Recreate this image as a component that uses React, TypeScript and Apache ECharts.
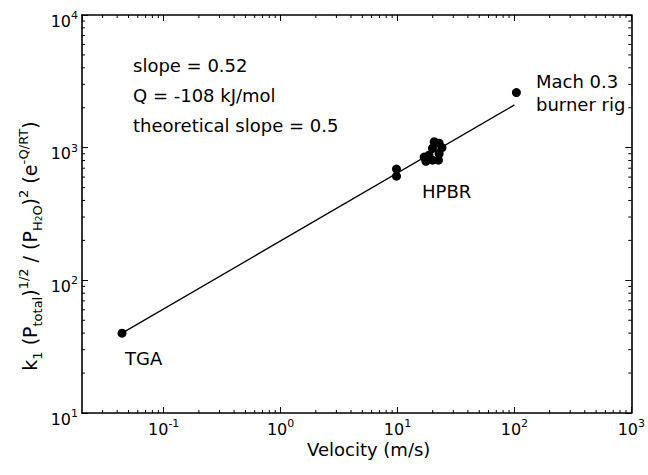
import React, { useEffect, useRef } from 'react';
import * as echarts from 'echarts';

// Axis ranges
const X_MIN = 0.02;
const X_MAX = 1000;
const Y_MIN = 10;
const Y_MAX = 10000;

// Data (velocity m/s, rate parameter)
const TGA_POINTS = [[0.044, 40]];
const HPBR_POINTS = [
  [9.8, 690], [9.8, 610],
  [20.6, 1110], [22.7, 1080], [19.9, 990], [22.7, 900], [16.9, 850],
  [17.5, 790], [19.9, 805], [22.4, 805], [18.6, 880], [24.0, 1000],
];
const MACH_POINTS = [[104, 2600]];
const FIT_LINE = [[0.044, 40], [100, 2100]];

// Minor tick multipliers and decades
const MINOR_STEPS = [2, 3, 4, 5, 6, 7, 8, 9];
const X_DECADES = [0.01, 0.1, 1, 10, 100];
const Y_DECADES = [10, 100, 1000];

const FONT = 'DejaVu Sans';

const xMinor = X_DECADES.flatMap((d) => MINOR_STEPS.map((m) => m * d)).filter(
  (v) => v > X_MIN * 1.001 && v < X_MAX
);
const yMinor = Y_DECADES.flatMap((d) => MINOR_STEPS.map((m) => m * d)).filter(
  (v) => v > Y_MIN && v < Y_MAX
);

const pow10Label = (v: number) => {
  const e = Math.log10(v);
  const r = Math.round(e);
  if (Math.abs(e - r) > 1e-6) return '';
  return `{b|10}{s|${r}}`;
};

const labelRich = {
  b: { fontSize: 16, lineHeight: 22, fontFamily: FONT, color: '#000' },
  s: { fontSize: 11, lineHeight: 11, fontFamily: FONT, color: '#000', verticalAlign: 'top' },
};

const axisCommon = {
  type: 'log' as const,
  logBase: 10,
  axisLine: { show: true, onZero: false, lineStyle: { color: '#000', width: 1.6 } },
  axisTick: { show: true, inside: true, length: 6, lineStyle: { color: '#000', width: 1 } },
  splitLine: { show: false },
};

export default function App() {
  const ref = useRef<HTMLDivElement>(null);

  useEffect(() => {
    if (!ref.current) return;
    const chart = echarts.init(ref.current, undefined, { renderer: 'svg' });

    const tickLine = (x1: number, y1: number, x2: number, y2: number) => ({
      type: 'line',
      shape: { x1, y1, x2, y2 },
      style: { stroke: '#000', lineWidth: 1 },
    });

    const option: any = {
      animation: false,
      backgroundColor: '#fff',
      grid: { left: 82, right: 16, top: 15, bottom: 62, containLabel: false },
      xAxis: [
        {
          ...axisCommon,
          min: X_MIN,
          max: X_MAX,
          position: 'bottom',
          axisLabel: {
            show: true,
            margin: 5,
            formatter: pow10Label,
            rich: labelRich,
            showMinLabel: false,
          },
        },
        {
          ...axisCommon,
          min: X_MIN,
          max: X_MAX,
          position: 'top',
          axisLabel: { show: false },
        },
      ],
      yAxis: [
        {
          ...axisCommon,
          min: Y_MIN,
          max: Y_MAX,
          position: 'left',
          axisLabel: {
            show: true,
            margin: 4,
            formatter: pow10Label,
            rich: labelRich,
            padding: [12, 0, 0, 0],
          },
        },
        {
          ...axisCommon,
          min: Y_MIN,
          max: Y_MAX,
          position: 'right',
          axisLabel: { show: false },
        },
      ],
      series: [
        {
          type: 'line',
          data: FIT_LINE,
          showSymbol: false,
          symbol: 'none',
          lineStyle: { color: '#000', width: 1.3 },
          z: 2,
        },
        {
          type: 'scatter',
          data: [...TGA_POINTS, ...HPBR_POINTS, ...MACH_POINTS],
          symbol: 'circle',
          symbolSize: 9,
          itemStyle: { color: '#000', opacity: 1 },
          z: 3,
        },
        {
          type: 'custom',
          data: xMinor.map((v) => [v, Y_MIN]),
          silent: true,
          clip: false,
          renderItem: (_p: any, api: any) => {
            const v = api.value(0);
            const b = api.coord([v, Y_MIN]);
            const t = api.coord([v, Y_MAX]);
            return {
              type: 'group',
              children: [
                tickLine(b[0], b[1], b[0], b[1] - 3),
                tickLine(t[0], t[1], t[0], t[1] + 3),
              ],
            };
          },
        },
        {
          type: 'custom',
          data: yMinor.map((v) => [X_MIN, v]),
          silent: true,
          clip: false,
          renderItem: (_p: any, api: any) => {
            const v = api.value(1);
            const l = api.coord([X_MIN, v]);
            const r = api.coord([X_MAX, v]);
            return {
              type: 'group',
              children: [
                tickLine(l[0], l[1], l[0] + 3, l[1]),
                tickLine(r[0], r[1], r[0] - 3, r[1]),
              ],
            };
          },
        },
      ],
      graphic: [
        {
          type: 'text',
          left: 133,
          top: 50,
          style: {
            text: 'slope = 0.52\nQ = -108 kJ/mol\ntheoretical slope = 0.5',
            font: `18px ${FONT}`,
            lineHeight: 30,
            fill: '#000',
          },
        },
        {
          type: 'text',
          left: 125,
          top: 349,
          style: { text: 'TGA', font: `18px ${FONT}`, fill: '#000' },
        },
        {
          type: 'text',
          left: 422,
          top: 182,
          style: { text: 'HPBR', font: `18px ${FONT}`, fill: '#000' },
        },
        {
          type: 'text',
          left: 536,
          top: 70,
          style: {
            text: 'Mach 0.3\nburner rig',
            font: `18px ${FONT}`,
            lineHeight: 23,
            fill: '#000',
          },
        },
        {
          type: 'text',
          left: 307,
          top: 440,
          style: { text: 'Velocity (m/s)', font: `18px ${FONT}`, fill: '#000' },
        },
        {
          type: 'text',
          x: 30,
          y: 246,
          rotation: Math.PI / 2,
          style: {
            text:
              '{m|k}{sub|1}{m| (P}{sub|total}{m|)}{sup|1/2}{m| / (P}{sub|H}{ss|2}{sub|O}{m|)}{sup|2}{m| (e}{sup|-Q/RT}{m|)}',
            align: 'center',
            verticalAlign: 'middle',
            fill: '#000',
            rich: {
              m: { fontSize: 19, lineHeight: 27, fontFamily: FONT, color: '#000' },
              sub: { fontSize: 13, lineHeight: 13, fontFamily: FONT, color: '#000', verticalAlign: 'bottom' },
              sup: { fontSize: 13, lineHeight: 13, fontFamily: FONT, color: '#000', verticalAlign: 'top' },
              ss: { fontSize: 9, lineHeight: 4, fontFamily: FONT, color: '#000', verticalAlign: 'bottom' },
            },
          },
        },
      ],
    };

    chart.setOption(option);
    return () => chart.dispose();
  }, []);

  return (
    <div
      ref={ref}
      style={{ position: 'fixed', left: 0, top: 0, width: 648, height: 475, background: '#fff' }}
    />
  );
}
